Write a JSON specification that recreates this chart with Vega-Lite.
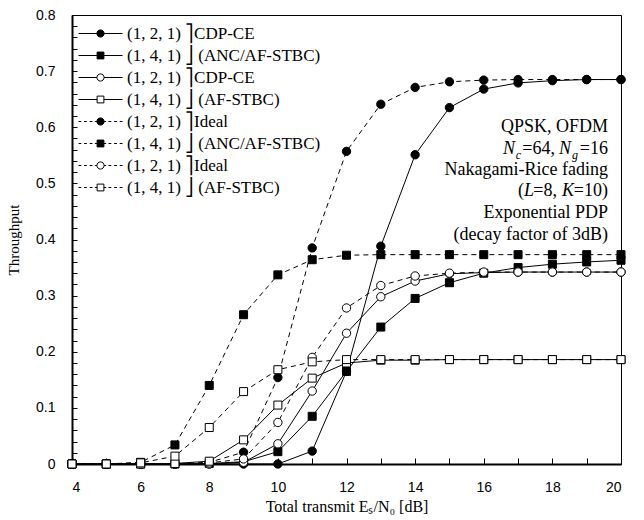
{
  "$schema": "https://vega.github.io/schema/vega-lite/v6.json",
  "width": 549,
  "height": 449,
  "autosize": {"type": "none"},
  "padding": {"left": 72, "top": 15, "right": 23, "bottom": 56},
  "background": "white",
  "config": {
    "view": {"stroke": "black", "strokeWidth": 1},
    "axis": {"grid": false, "domainColor": "black", "tickColor": "black", "labelColor": "black", "titleColor": "black"}
  },
  "datasets": {
    "curves": [
      {"snr": 4, "CE_ANC_121": 0, "CE_ANC_141": 0, "CE_AF_121": 0, "CE_AF_141": 0, "ID_ANC_121": 0, "ID_ANC_141": 0, "ID_AF_121": 0, "ID_AF_141": 0},
      {"snr": 5, "CE_ANC_121": 0, "CE_ANC_141": 0, "CE_AF_121": 0, "CE_AF_141": 0, "ID_ANC_121": 0, "ID_ANC_141": 0, "ID_AF_121": 0, "ID_AF_141": 0},
      {"snr": 6, "CE_ANC_121": 0, "CE_ANC_141": 0, "CE_AF_121": 0, "CE_AF_141": 0, "ID_ANC_121": 0, "ID_ANC_141": 0.003, "ID_AF_121": 0, "ID_AF_141": 0.002},
      {"snr": 7, "CE_ANC_121": 0, "CE_ANC_141": 0, "CE_AF_121": 0, "CE_AF_141": 0.001, "ID_ANC_121": 0, "ID_ANC_141": 0.034, "ID_AF_121": 0, "ID_AF_141": 0.014},
      {"snr": 8, "CE_ANC_121": 0, "CE_ANC_141": 0.001, "CE_AF_121": 0, "CE_AF_141": 0.005, "ID_ANC_121": 0.003, "ID_ANC_141": 0.14, "ID_AF_121": 0.002, "ID_AF_141": 0.065},
      {"snr": 9, "CE_ANC_121": 0, "CE_ANC_141": 0.004, "CE_AF_121": 0.003, "CE_AF_141": 0.043, "ID_ANC_121": 0.021, "ID_ANC_141": 0.266, "ID_AF_121": 0.009, "ID_AF_141": 0.129},
      {"snr": 10, "CE_ANC_121": 0, "CE_ANC_141": 0.022, "CE_AF_121": 0.036, "CE_AF_141": 0.105, "ID_ANC_121": 0.154, "ID_ANC_141": 0.337, "ID_AF_121": 0.074, "ID_AF_141": 0.168},
      {"snr": 11, "CE_ANC_121": 0.023, "CE_ANC_141": 0.085, "CE_AF_121": 0.13, "CE_AF_141": 0.153, "ID_ANC_121": 0.385, "ID_ANC_141": 0.364, "ID_AF_121": 0.19, "ID_AF_141": 0.182},
      {"snr": 12, "CE_ANC_121": 0.165, "CE_ANC_141": 0.165, "CE_AF_121": 0.233, "CE_AF_141": 0.18, "ID_ANC_121": 0.557, "ID_ANC_141": 0.372, "ID_AF_121": 0.278, "ID_AF_141": 0.186},
      {"snr": 13, "CE_ANC_121": 0.388, "CE_ANC_141": 0.244, "CE_AF_121": 0.298, "CE_AF_141": 0.185, "ID_ANC_121": 0.641, "ID_ANC_141": 0.373, "ID_AF_121": 0.318, "ID_AF_141": 0.186},
      {"snr": 14, "CE_ANC_121": 0.551, "CE_ANC_141": 0.295, "CE_AF_121": 0.326, "CE_AF_141": 0.185, "ID_ANC_121": 0.671, "ID_ANC_141": 0.373, "ID_AF_121": 0.335, "ID_AF_141": 0.186},
      {"snr": 15, "CE_ANC_121": 0.635, "CE_ANC_141": 0.323, "CE_AF_121": 0.339, "CE_AF_141": 0.186, "ID_ANC_121": 0.681, "ID_ANC_141": 0.373, "ID_AF_121": 0.34, "ID_AF_141": 0.186},
      {"snr": 16, "CE_ANC_121": 0.668, "CE_ANC_141": 0.34, "CE_AF_121": 0.341, "CE_AF_141": 0.186, "ID_ANC_121": 0.684, "ID_ANC_141": 0.373, "ID_AF_121": 0.342, "ID_AF_141": 0.186},
      {"snr": 17, "CE_ANC_121": 0.679, "CE_ANC_141": 0.35, "CE_AF_121": 0.342, "CE_AF_141": 0.186, "ID_ANC_121": 0.685, "ID_ANC_141": 0.373, "ID_AF_121": 0.342, "ID_AF_141": 0.186},
      {"snr": 18, "CE_ANC_121": 0.683, "CE_ANC_141": 0.356, "CE_AF_121": 0.342, "CE_AF_141": 0.186, "ID_ANC_121": 0.685, "ID_ANC_141": 0.373, "ID_AF_121": 0.342, "ID_AF_141": 0.186},
      {"snr": 19, "CE_ANC_121": 0.685, "CE_ANC_141": 0.36, "CE_AF_121": 0.342, "CE_AF_141": 0.186, "ID_ANC_121": 0.685, "ID_ANC_141": 0.373, "ID_AF_121": 0.342, "ID_AF_141": 0.186},
      {"snr": 20, "CE_ANC_121": 0.685, "CE_ANC_141": 0.363, "CE_AF_121": 0.342, "CE_AF_141": 0.186, "ID_ANC_121": 0.685, "ID_ANC_141": 0.373, "ID_AF_121": 0.342, "ID_AF_141": 0.186}
    ]
  },
  "data": {"name": "curves"},
  "encoding": {
    "x": {
      "field": "snr", "type": "quantitative",
      "scale": {"domain": [4, 20], "nice": false},
      "axis": {
        "values": [4, 5, 6, 7, 8, 9, 10, 11, 12, 13, 14, 15, 16, 17, 18, 19, 20],
        "labelExpr": "datum.value % 2 == 0 ? datum.label : ''",
        "tickSize": -6, "labelPadding": 22, "domainWidth": 2,
        "labelFont": "Liberation Sans", "labelFontSize": 14,
        "title": "Total transmit Eₛ/N₀ [dB]",
        "titleFont": "Liberation Serif", "titleFontSize": 16, "titleFontWeight": "normal", "titlePadding": 4
      }
    },
    "y": {
      "field": "throughput", "type": "quantitative",
      "scale": {"domain": [0, 0.8], "nice": false},
      "axis": {
        "values": [0, 0.02, 0.04, 0.06, 0.08, 0.1, 0.12, 0.14, 0.16, 0.18, 0.2, 0.22, 0.24, 0.26, 0.28, 0.3, 0.32, 0.34, 0.36, 0.38, 0.4, 0.42, 0.44, 0.46, 0.48, 0.5, 0.52, 0.54, 0.56, 0.58, 0.6, 0.62, 0.64, 0.66, 0.68, 0.7, 0.72, 0.74, 0.76, 0.78, 0.8],
        "labelExpr": "round(datum.value*100) % 10 == 0 ? format(datum.value, '~g') : ''",
        "labelOverlap": false,
        "tickSize": -5, "labelPadding": 22, "domainWidth": 2,
        "labelFont": "Liberation Sans", "labelFontSize": 14,
        "title": "Throughput",
        "titleFont": "Liberation Serif", "titleFontSize": 15, "titleFontWeight": "normal", "titlePadding": 14
      }
    }
  },
  "layer": [
    {
      "transform": [
        {"fold": ["CE_ANC_121", "CE_ANC_141", "CE_AF_121", "CE_AF_141"], "as": ["series", "throughput"]}
      ],
      "mark": {"type": "line", "color": "black", "strokeWidth": 1},
      "encoding": {"detail": {"field": "series"}}
    },
    {
      "transform": [
        {"fold": ["ID_ANC_121", "ID_ANC_141", "ID_AF_121", "ID_AF_141"], "as": ["series", "throughput"]}
      ],
      "mark": {"type": "line", "color": "black", "strokeWidth": 1, "strokeDash": [5, 4]},
      "encoding": {"detail": {"field": "series"}}
    },
    {
      "transform": [
        {"fold": ["CE_ANC_121", "ID_ANC_121"], "as": ["series", "throughput"]}
      ],
      "mark": {"type": "point", "shape": "circle", "filled": true, "fill": "black", "stroke": "black", "strokeWidth": 1, "size": 70, "opacity": 1}
    },
    {
      "transform": [
        {"fold": ["CE_ANC_141", "ID_ANC_141"], "as": ["series", "throughput"]}
      ],
      "mark": {"type": "point", "shape": "square", "filled": true, "fill": "black", "stroke": "black", "strokeWidth": 1, "size": 64, "opacity": 1}
    },
    {
      "transform": [
        {"fold": ["CE_AF_121", "ID_AF_121"], "as": ["series", "throughput"]}
      ],
      "mark": {"type": "point", "shape": "circle", "filled": true, "fill": "white", "stroke": "black", "strokeWidth": 1, "size": 70, "opacity": 1}
    },
    {
      "transform": [
        {"fold": ["CE_AF_141", "ID_AF_141"], "as": ["series", "throughput"]}
      ],
      "mark": {"type": "point", "shape": "square", "filled": true, "fill": "white", "stroke": "black", "strokeWidth": 1, "size": 64, "opacity": 1}
    },
    {
      "transform": [
        {"fold": ["CE_ANC_121", "CE_ANC_141", "CE_AF_121", "CE_AF_141", "ID_ANC_121", "ID_ANC_141", "ID_AF_121", "ID_AF_141"], "as": ["series", "throughput"]},
        {"filter": "datum.snr > 100"}
      ],
      "mark": {"type": "point", "filled": true, "strokeWidth": 1, "size": 64},
      "encoding": {
        "fill": {
          "field": "series", "type": "nominal",
          "scale": {
            "domain": ["CE_ANC_121", "CE_ANC_141", "CE_AF_121", "CE_AF_141", "ID_ANC_121", "ID_ANC_141", "ID_AF_121", "ID_AF_141"],
            "range": ["black", "black", "white", "white", "black", "black", "white", "white"]
          },
          "legend": {
            "title": null, "orient": "none", "legendX": 20, "legendY": 10,
            "symbolSize": 64, "symbolStrokeColor": "black", "symbolStrokeWidth": 1, "symbolOpacity": 1,
            "labelFont": "Liberation Serif", "labelFontSize": 17, "labelColor": "black", "labelOffset": 18, "labelLimit": 400,
            "rowPadding": 4,
            "labelExpr": "(indexof(datum.value,'121')>0 ? '(1, 2, 1) ⎤' : '(1, 4, 1) ⎦   ') + (indexof(datum.value,'121')>0 ? (indexof(datum.value,'CE')==0 ? 'CDP-CE' : 'Ideal') : (indexof(datum.value,'ANC')>0 ? '(ANC/AF-STBC)' : '(AF-STBC)'))"
          }
        },
        "stroke": {
          "field": "series", "type": "nominal",
          "scale": {
            "domain": ["CE_ANC_121", "CE_ANC_141", "CE_AF_121", "CE_AF_141", "ID_ANC_121", "ID_ANC_141", "ID_AF_121", "ID_AF_141"],
            "range": ["black", "black", "black", "black", "black", "black", "black", "black"]
          },
          "legend": {
            "title": null, "orient": "none", "legendX": 20, "legendY": 10,
            "symbolSize": 64, "symbolStrokeColor": "black", "symbolStrokeWidth": 1, "symbolOpacity": 1,
            "labelFont": "Liberation Serif", "labelFontSize": 17, "labelColor": "black", "labelOffset": 18, "labelLimit": 400,
            "rowPadding": 4,
            "labelExpr": "(indexof(datum.value,'121')>0 ? '(1, 2, 1) ⎤' : '(1, 4, 1) ⎦   ') + (indexof(datum.value,'121')>0 ? (indexof(datum.value,'CE')==0 ? 'CDP-CE' : 'Ideal') : (indexof(datum.value,'ANC')>0 ? '(ANC/AF-STBC)' : '(AF-STBC)'))"
          }
        },
        "shape": {
          "field": "series", "type": "nominal",
          "scale": {
            "domain": ["CE_ANC_121", "CE_ANC_141", "CE_AF_121", "CE_AF_141", "ID_ANC_121", "ID_ANC_141", "ID_AF_121", "ID_AF_141"],
            "range": [
              "M-5.5,0L-0.9,0M0.9,0L5.5,0M0.9,0L0.831,0.344L0.636,0.636L0.344,0.831L0,0.9L-0.344,0.831L-0.636,0.636L-0.831,0.344L-0.9,0L-0.831,-0.344L-0.636,-0.636L-0.344,-0.831L0,-0.9L0.344,-0.831L0.636,-0.636L0.831,-0.344Z",
              "M-5.5,0L-0.85,0M0.85,0L5.5,0M-0.85,-0.85L0.85,-0.85L0.85,0.85L-0.85,0.85Z",
              "M-5.5,0L-0.9,0M0.9,0L5.5,0M0.9,0L0.831,0.344L0.636,0.636L0.344,0.831L0,0.9L-0.344,0.831L-0.636,0.636L-0.831,0.344L-0.9,0L-0.831,-0.344L-0.636,-0.636L-0.344,-0.831L0,-0.9L0.344,-0.831L0.636,-0.636L0.831,-0.344Z",
              "M-5.5,0L-0.85,0M0.85,0L5.5,0M-0.85,-0.85L0.85,-0.85L0.85,0.85L-0.85,0.85Z",
              "M-5.5,0L-4.8,0M-4.1,0L-3.4,0M-2.7,0L-2,0M-1.4,0L-0.9,0M0.9,0L1.4,0M2,0L2.7,0M3.4,0L4.1,0M4.8,0L5.5,0M0.9,0L0.831,0.344L0.636,0.636L0.344,0.831L0,0.9L-0.344,0.831L-0.636,0.636L-0.831,0.344L-0.9,0L-0.831,-0.344L-0.636,-0.636L-0.344,-0.831L0,-0.9L0.344,-0.831L0.636,-0.636L0.831,-0.344Z",
              "M-5.5,0L-4.8,0M-4.1,0L-3.4,0M-2.7,0L-2,0M-1.4,0L-0.85,0M0.85,0L1.4,0M2,0L2.7,0M3.4,0L4.1,0M4.8,0L5.5,0M-0.85,-0.85L0.85,-0.85L0.85,0.85L-0.85,0.85Z",
              "M-5.5,0L-4.8,0M-4.1,0L-3.4,0M-2.7,0L-2,0M-1.4,0L-0.9,0M0.9,0L1.4,0M2,0L2.7,0M3.4,0L4.1,0M4.8,0L5.5,0M0.9,0L0.831,0.344L0.636,0.636L0.344,0.831L0,0.9L-0.344,0.831L-0.636,0.636L-0.831,0.344L-0.9,0L-0.831,-0.344L-0.636,-0.636L-0.344,-0.831L0,-0.9L0.344,-0.831L0.636,-0.636L0.831,-0.344Z",
              "M-5.5,0L-4.8,0M-4.1,0L-3.4,0M-2.7,0L-2,0M-1.4,0L-0.85,0M0.85,0L1.4,0M2,0L2.7,0M3.4,0L4.1,0M4.8,0L5.5,0M-0.85,-0.85L0.85,-0.85L0.85,0.85L-0.85,0.85Z"
            ]
          },
          "legend": {
            "title": null, "orient": "none", "legendX": 20, "legendY": 10,
            "symbolSize": 64, "symbolStrokeColor": "black", "symbolStrokeWidth": 1, "symbolOpacity": 1,
            "labelFont": "Liberation Serif", "labelFontSize": 17, "labelColor": "black", "labelOffset": 18, "labelLimit": 400,
            "rowPadding": 4,
            "labelExpr": "(indexof(datum.value,'121')>0 ? '(1, 2, 1) ⎤' : '(1, 4, 1) ⎦   ') + (indexof(datum.value,'121')>0 ? (indexof(datum.value,'CE')==0 ? 'CDP-CE' : 'Ideal') : (indexof(datum.value,'ANC')>0 ? '(ANC/AF-STBC)' : '(AF-STBC)'))"
          }
        }
      }
    },
    {
      "transform": [
        {"fold": ["CE_ANC_121"], "as": ["series", "throughput"]},
        {"filter": "datum.snr == 20"}
      ],
      "layer": [
        {"mark": {"type": "text", "text": "QPSK, OFDM", "align": "right", "baseline": "middle", "dx": -13, "font": "Liberation Serif", "fontSize": 18, "fill": "black"}, "encoding": {"x": {"datum": 20}, "y": {"datum": 0.6}}},
        {"mark": {"type": "text", "text": "=16", "align": "right", "baseline": "middle", "dx": -13, "font": "Liberation Serif", "fontSize": 18, "fill": "black"}, "encoding": {"x": {"datum": 20}, "y": {"datum": 0.562}}},
        {"mark": {"type": "text", "text": "g", "align": "right", "baseline": "middle", "dx": -43, "dy": 6, "font": "Liberation Serif", "fontSize": 12, "fontStyle": "italic", "fill": "black"}, "encoding": {"x": {"datum": 20}, "y": {"datum": 0.562}}},
        {"mark": {"type": "text", "text": "N", "align": "right", "baseline": "middle", "dx": -50, "font": "Liberation Serif", "fontSize": 18, "fontStyle": "italic", "fill": "black"}, "encoding": {"x": {"datum": 20}, "y": {"datum": 0.562}}},
        {"mark": {"type": "text", "text": "=64,", "align": "right", "baseline": "middle", "dx": -66, "font": "Liberation Serif", "fontSize": 18, "fill": "black"}, "encoding": {"x": {"datum": 20}, "y": {"datum": 0.562}}},
        {"mark": {"type": "text", "text": "c", "align": "right", "baseline": "middle", "dx": -100, "dy": 6, "font": "Liberation Serif", "fontSize": 12, "fontStyle": "italic", "fill": "black"}, "encoding": {"x": {"datum": 20}, "y": {"datum": 0.562}}},
        {"mark": {"type": "text", "text": "N", "align": "right", "baseline": "middle", "dx": -106, "font": "Liberation Serif", "fontSize": 18, "fontStyle": "italic", "fill": "black"}, "encoding": {"x": {"datum": 20}, "y": {"datum": 0.562}}},
        {"mark": {"type": "text", "text": "Nakagami-Rice fading", "align": "right", "baseline": "middle", "dx": -13, "font": "Liberation Serif", "fontSize": 18, "fill": "black"}, "encoding": {"x": {"datum": 20}, "y": {"datum": 0.524}}},
        {"mark": {"type": "text", "text": "=10)", "align": "right", "baseline": "middle", "dx": -13, "font": "Liberation Serif", "fontSize": 18, "fill": "black"}, "encoding": {"x": {"datum": 20}, "y": {"datum": 0.486}}},
        {"mark": {"type": "text", "text": "K", "align": "right", "baseline": "middle", "dx": -47, "font": "Liberation Serif", "fontSize": 18, "fontStyle": "italic", "fill": "black"}, "encoding": {"x": {"datum": 20}, "y": {"datum": 0.486}}},
        {"mark": {"type": "text", "text": "=8,", "align": "right", "baseline": "middle", "dx": -64, "font": "Liberation Serif", "fontSize": 18, "fill": "black"}, "encoding": {"x": {"datum": 20}, "y": {"datum": 0.486}}},
        {"mark": {"type": "text", "text": "L", "align": "right", "baseline": "middle", "dx": -87, "font": "Liberation Serif", "fontSize": 18, "fontStyle": "italic", "fill": "black"}, "encoding": {"x": {"datum": 20}, "y": {"datum": 0.486}}},
        {"mark": {"type": "text", "text": "(", "align": "right", "baseline": "middle", "dx": -97, "font": "Liberation Serif", "fontSize": 18, "fill": "black"}, "encoding": {"x": {"datum": 20}, "y": {"datum": 0.486}}},
        {"mark": {"type": "text", "text": "Exponential PDP", "align": "right", "baseline": "middle", "dx": -13, "font": "Liberation Serif", "fontSize": 18, "fill": "black"}, "encoding": {"x": {"datum": 20}, "y": {"datum": 0.447}}},
        {"mark": {"type": "text", "text": "(decay factor of 3dB)", "align": "right", "baseline": "middle", "dx": -13, "font": "Liberation Serif", "fontSize": 18, "fill": "black"}, "encoding": {"x": {"datum": 20}, "y": {"datum": 0.408}}}
      ]
    }
  ]
}
